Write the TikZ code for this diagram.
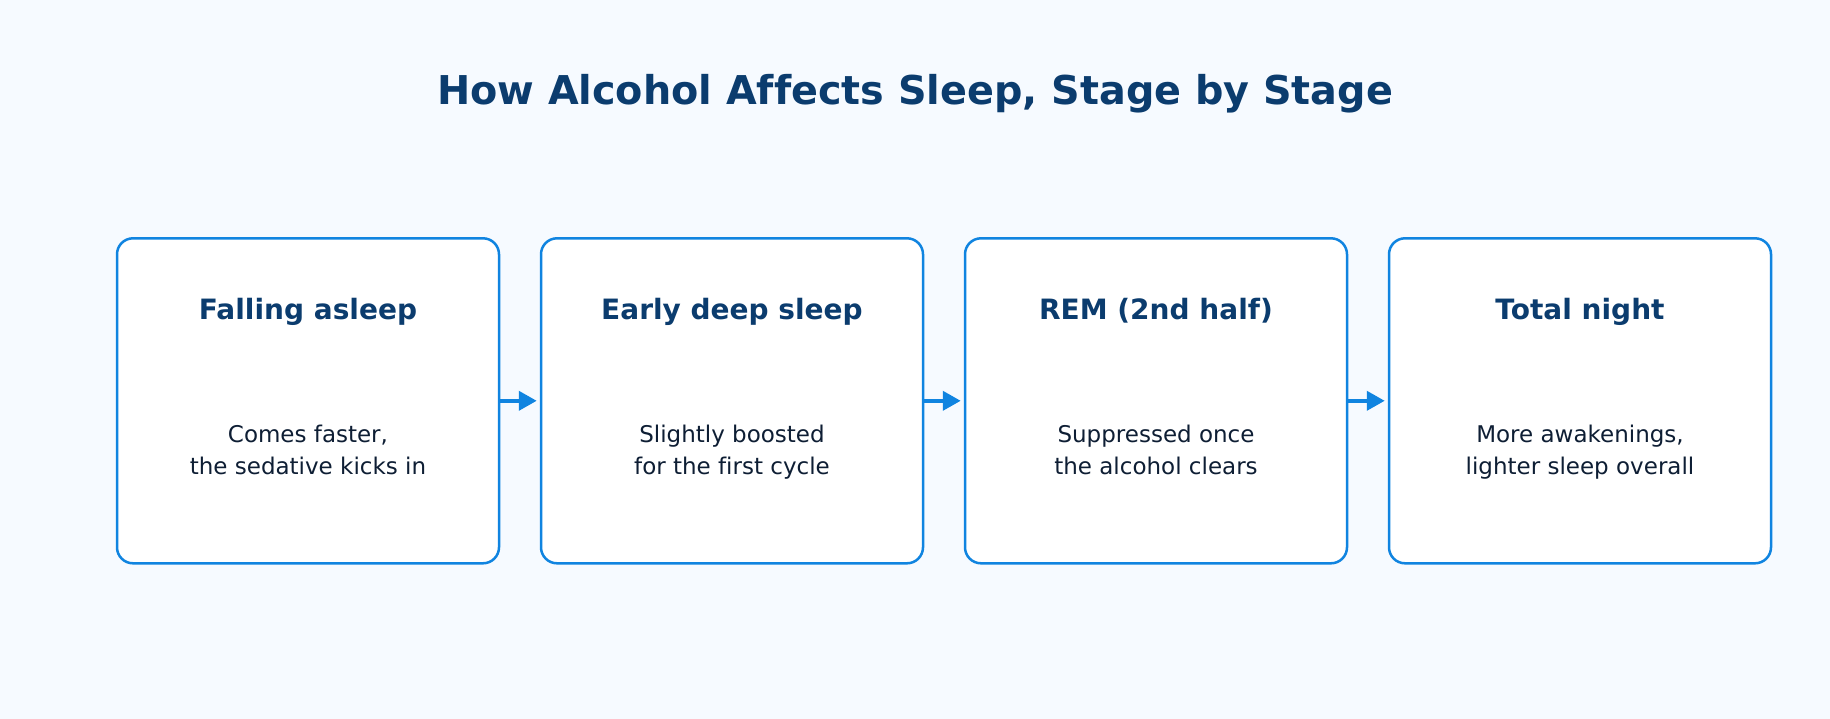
\documentclass[tikz,border=0pt]{standalone}
\usepackage{fontspec}
\setmainfont[Ligatures={NoCommon}]{DejaVu Sans}
\usetikzlibrary{arrows.meta}
\definecolor{bgc}{RGB}{246,250,255}
\definecolor{edgec}{RGB}{16,132,224}
\definecolor{titlec}{RGB}{11,60,110}
\definecolor{bodyc}{RGB}{14,30,52}
\tikzset{
  maintitle/.style={font=\bfseries\fontsize{39.7}{48}\selectfont, text=titlec, inner sep=0pt},
  stagebox/.style={draw=edgec, line width=2.5pt, fill=white, rounded corners=16pt,
    minimum width=382pt, minimum height=325pt, inner sep=0pt},
  heading/.style={font=\bfseries\fontsize{28}{34}\selectfont, text=titlec, inner sep=0pt,
    text height=21pt, text depth=6pt},
  bodytext/.style={font=\fontsize{23}{32}\selectfont, text=bodyc, align=center, inner sep=0pt},
  flowarrow/.style={draw=edgec, line width=4pt, -{Triangle[length=18pt,width=19pt]}, shorten >=3pt}
}
\begin{document}
\begin{tikzpicture}[x=1pt,y=-1pt]
\fill[bgc] (0,0) rectangle (1830,719);
\useasboundingbox (0,0) rectangle (1830,719);
\node[maintitle] (title) at (915,94) {How Alcohol Affects Sleep, Stage by Stage};
\foreach \i/\x/\h/\a/\b in {1/308/{Falling asleep}/{Comes faster,}/{the sedative kicks in},
  2/732/{Early deep sleep}/{Slightly boosted}/{for the first cycle},
  3/1156/{REM (2nd half)}/{Suppressed once}/{the alcohol clears},
  4/1580/{Total night}/{More awakenings,}/{lighter sleep overall}}{
  \node[stagebox] (b\i) at (\x,400.8) {};
  \node[heading] (h\i) at (\x,312) {\h};
  \node[bodytext] (t\i) at (\x,452.5) {\rule{0pt}{18pt}\a\\\b\rule[-6pt]{0pt}{6pt}};
}
\draw[flowarrow] (b1.east) -- (b2.west);
\draw[flowarrow] (b2.east) -- (b3.west);
\draw[flowarrow] (b3.east) -- (b4.west);
\end{tikzpicture}
\end{document}
